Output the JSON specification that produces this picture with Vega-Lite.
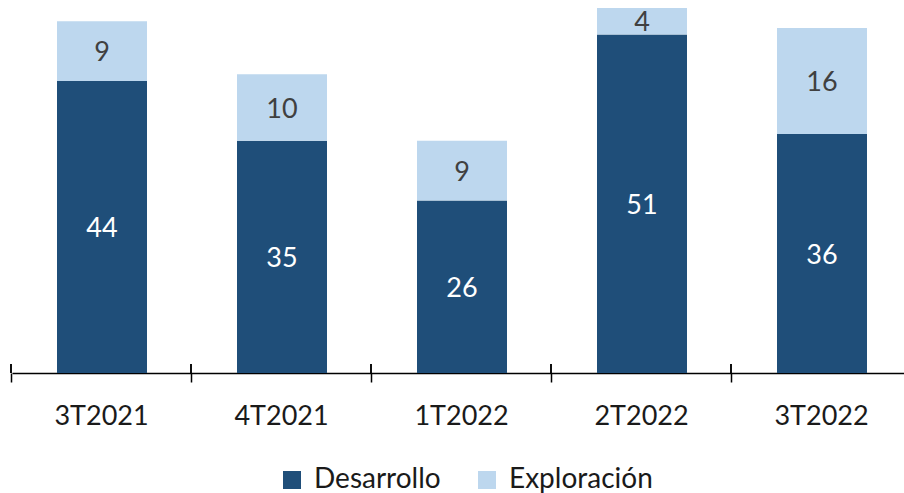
{
  "$schema": "https://vega.github.io/schema/vega-lite/v6.json",
  "autosize": "none",
  "width": 900,
  "height": 373,
  "padding": {"left": 12, "top": 0, "right": 0, "bottom": 120},
  "background": "white",
  "config": {"view": {"stroke": null}, "font": "Lato"},
  "data": {"values": [
    {"periodo": "3T2021", "serie": "Desarrollo", "valor": 44},
    {"periodo": "3T2021", "serie": "Exploración", "valor": 9},
    {"periodo": "4T2021", "serie": "Desarrollo", "valor": 35},
    {"periodo": "4T2021", "serie": "Exploración", "valor": 10},
    {"periodo": "1T2022", "serie": "Desarrollo", "valor": 26},
    {"periodo": "1T2022", "serie": "Exploración", "valor": 9},
    {"periodo": "2T2022", "serie": "Desarrollo", "valor": 51},
    {"periodo": "2T2022", "serie": "Exploración", "valor": 4},
    {"periodo": "3T2022", "serie": "Desarrollo", "valor": 36},
    {"periodo": "3T2022", "serie": "Exploración", "valor": 16}
  ]},
  "encoding": {
    "x": {
      "field": "periodo", "type": "nominal", "sort": null,
      "scale": {"paddingInner": 0.5, "paddingOuter": 0.25},
      "axis": {
        "title": null, "bandPosition": 0, "tickOffset": -46, "labelOffset": 45,
        "domainColor": "black", "tickColor": "black", "tickSize": 9, "tickWidth": 1.5, "domainWidth": 1.5,
        "labelFontSize": 27, "labelColor": "#1a1a1a", "labelPadding": 21, "labelAngle": 0
      }
    },
    "y": {
      "field": "valor", "type": "quantitative", "stack": "zero",
      "scale": {"domain": [0, 56.2], "nice": false},
      "axis": null
    }
  },
  "layer": [
    {
      "mark": {"type": "bar"},
      "encoding": {
        "color": {
          "field": "serie", "type": "nominal",
          "scale": {"domain": ["Desarrollo", "Exploración"], "range": ["#1F4E79", "#BDD7EE"]},
          "legend": {
            "title": null, "orient": "none", "direction": "horizontal",
            "legendX": 266, "legendY": 466,
            "symbolType": "square", "symbolSize": 324, "symbolStrokeWidth": 0,
            "labelFontSize": 28, "labelColor": "#1a1a1a", "columnPadding": 32, "labelOffset": 8
          }
        },
        "order": {"field": "serie"}
      }
    },
    {
      "mark": {"type": "rule", "xOffset": -46, "color": "black", "strokeWidth": 1.5},
      "encoding": {
        "x": {"field": "periodo", "type": "nominal", "sort": null, "bandPosition": 0},
        "y": {"datum": 1.35, "type": "quantitative"},
        "y2": {"datum": 0}
      }
    },
    {
      "mark": {"type": "text", "fontSize": 27, "baseline": "middle", "dy": 2},
      "encoding": {
        "y": {"field": "valor", "type": "quantitative", "stack": "zero", "bandPosition": 0.5},
        "detail": {"field": "serie"},
        "order": {"field": "serie"},
        "text": {"field": "valor", "type": "quantitative"},
        "color": {"condition": {"test": "datum.serie === 'Desarrollo'", "value": "white"}, "value": "#404040"}
      }
    }
  ]
}
